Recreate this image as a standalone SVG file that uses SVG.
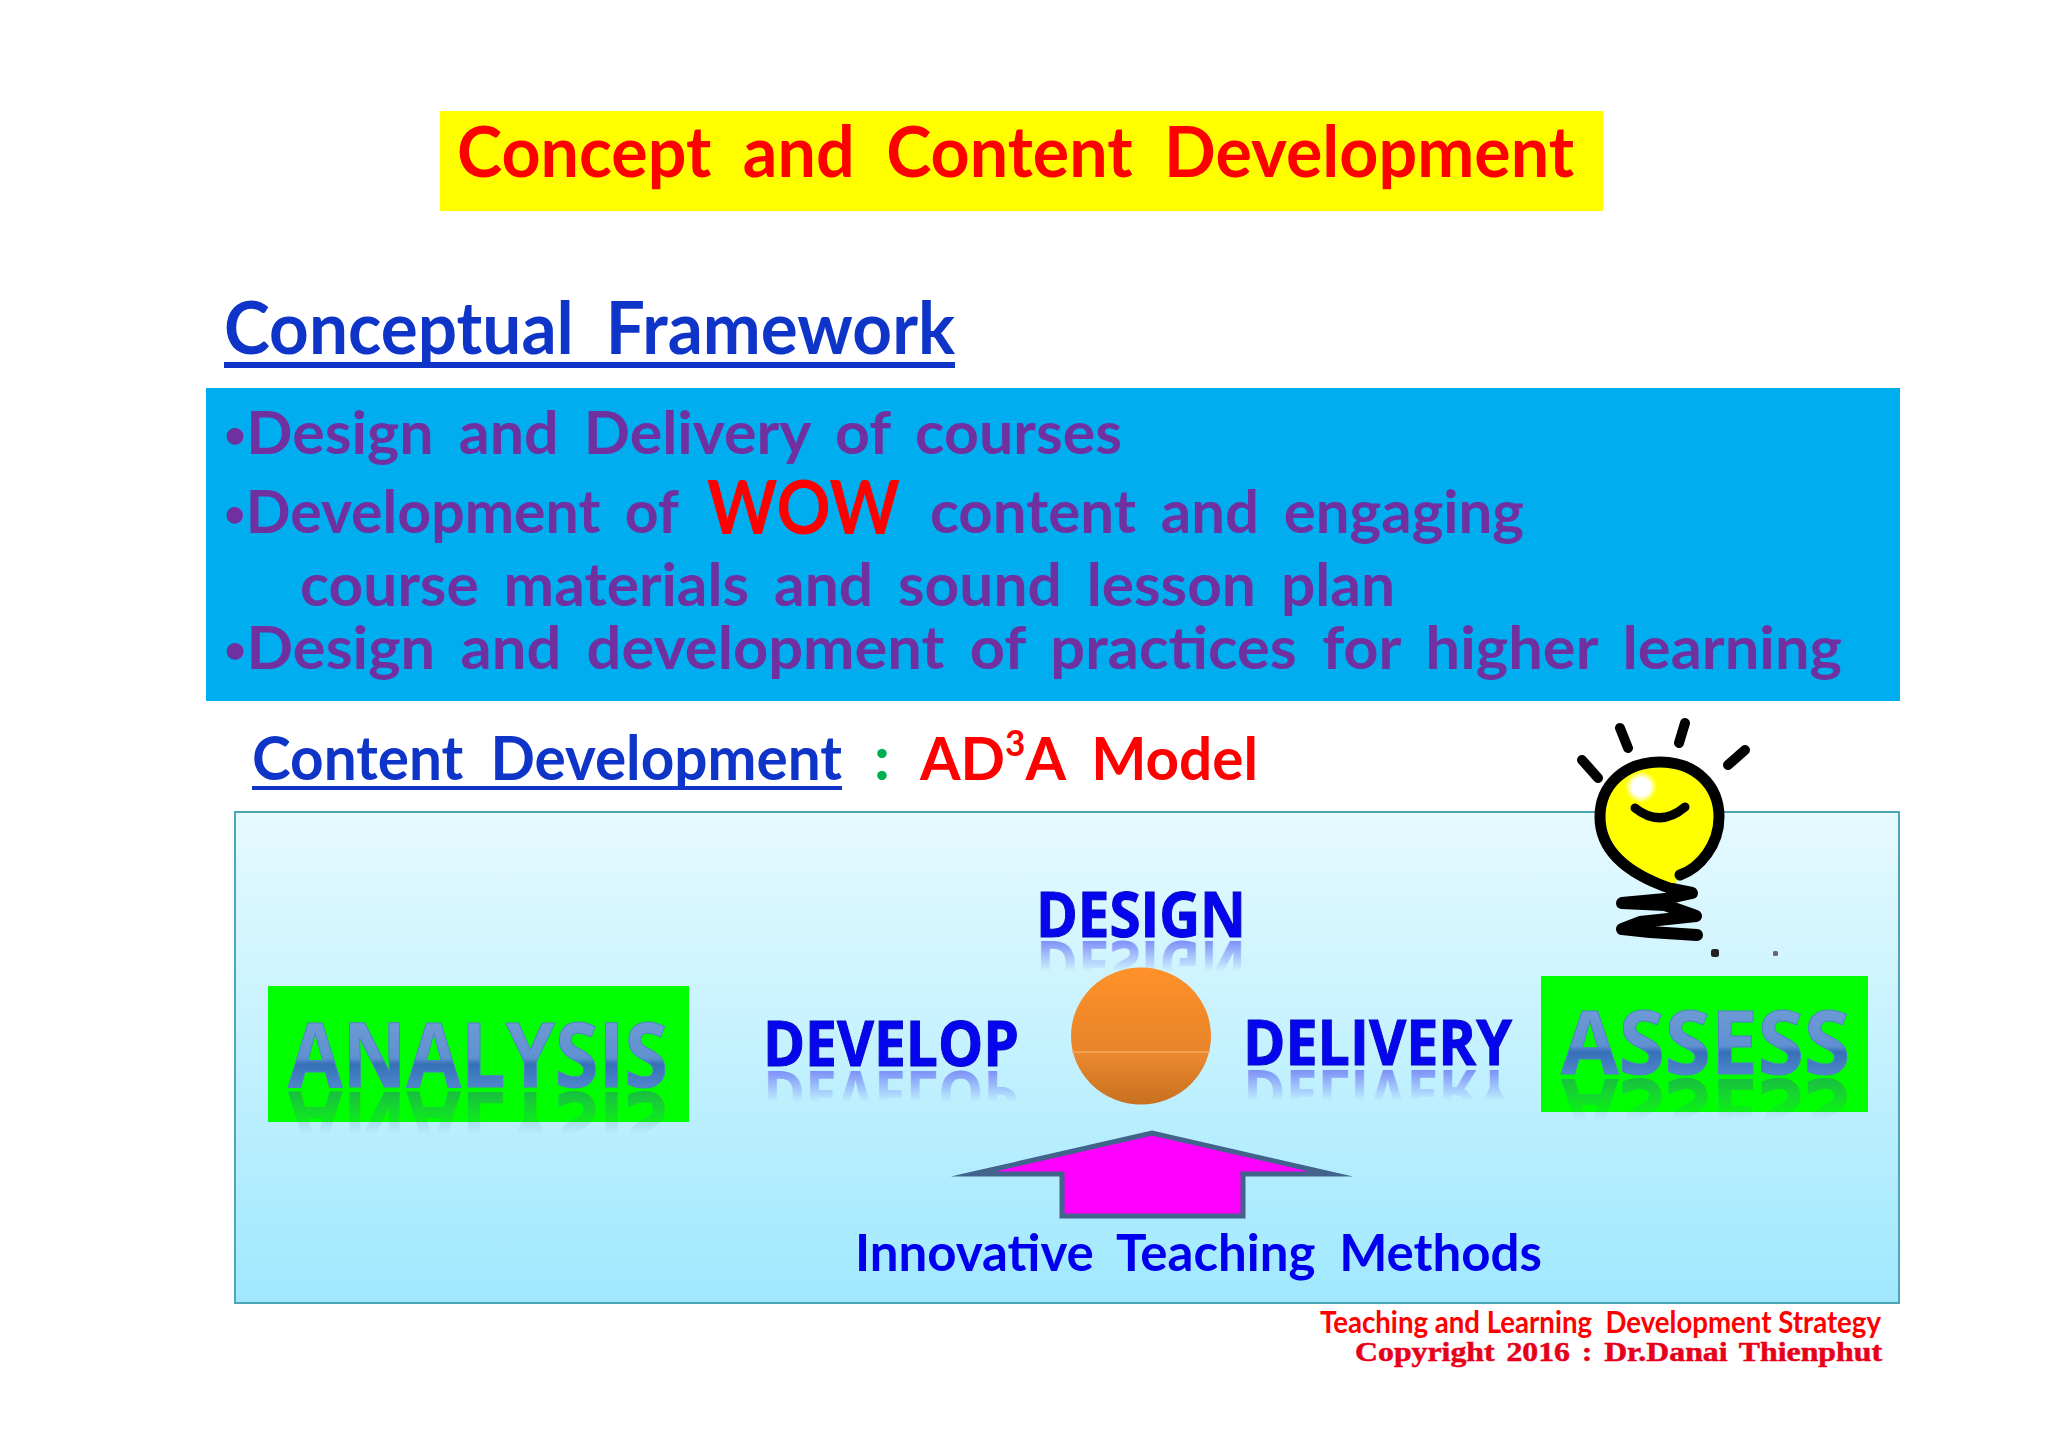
<svg xmlns="http://www.w3.org/2000/svg" width="2048" height="1448" viewBox="0 0 2048 1448">
<style>
text{font-family:"Lato","Open Sans","Liberation Sans",sans-serif;font-weight:700}
.c{word-spacing:.22em}
.body{font-size:60px;fill:#7030a0;word-spacing:.17em}
.blue{fill:#0f35c8}
.wa{font-family:"Open Sans","Liberation Sans",sans-serif;font-weight:700}
.b{fill:#0606ee;stroke:#0606c0;stroke-width:1}
.ref{fill:url(#fadeBlue)}
.st{fill:url(#steel);stroke:#4f82c4;stroke-width:1}
.ray{fill:none;stroke:#000;stroke-width:10;stroke-linecap:round}
</style>
<defs>
<linearGradient id="panel" x1="0" y1="0" x2="0" y2="1"><stop offset="0" stop-color="#e6faff"/><stop offset="1" stop-color="#a0e8fe"/></linearGradient>
<linearGradient id="ball" x1="0" y1="0" x2="0" y2="1"><stop offset="0" stop-color="#ff9129"/><stop offset=".61" stop-color="#e8842a"/><stop offset=".615" stop-color="#ec8a30"/><stop offset="1" stop-color="#c8701f"/></linearGradient>
<linearGradient id="steel" x1="0" y1="0" x2="0" y2="1"><stop offset=".2" stop-color="#6f9cd6"/><stop offset=".55" stop-color="#5f90d0"/><stop offset=".6" stop-color="#3570b8"/><stop offset=".8" stop-color="#5088cc"/></linearGradient>
<linearGradient id="fadeBlue" x1="0" y1="0" x2="0" y2="1"><stop offset=".417" stop-color="#6a78f5" stop-opacity="0"/><stop offset=".786" stop-color="#6a78f5" stop-opacity=".8"/></linearGradient>
<linearGradient id="fadeSteel" x1="0" y1="0" x2="0" y2="1"><stop offset=".435" stop-color="#5a86b0" stop-opacity="0"/><stop offset=".787" stop-color="#2a8a70" stop-opacity=".55"/></linearGradient>
<radialGradient id="shine"><stop offset=".55" stop-color="#fff"/><stop offset="1" stop-color="#fff" stop-opacity="0"/></radialGradient>
</defs>
<rect width="2048" height="1448" fill="#fff"/>
<g id="title"><rect x="440" y="111" width="1163" height="100" fill="#ff0"/>
<text class="c" x="457" y="177" font-size="70" fill="#f00" textLength="1117" lengthAdjust="spacingAndGlyphs">Concept and Content Development</text></g>
<g id="framework-heading"><text class="c blue" x="224" y="354" font-size="72" textLength="731" lengthAdjust="spacingAndGlyphs">Conceptual Framework</text><rect x="224" y="362" width="731" height="6" fill="#0f35c8"/></g>
<g id="framework-box"><rect x="206" y="388" width="1694" height="313" fill="#00aeef"/>
<text class="body" x="224" y="454" textLength="898" lengthAdjust="spacingAndGlyphs"><tspan font-size="38" dy="-6">•</tspan><tspan dy="6">Design and Delivery of courses</tspan></text>
<text class="body" x="224" y="533" textLength="455" lengthAdjust="spacingAndGlyphs"><tspan font-size="38" dy="-6">•</tspan><tspan dy="6">Development of</tspan></text>
<text x="707" y="534" font-size="75" fill="#f00" textLength="193" lengthAdjust="spacingAndGlyphs">WOW</text>
<text class="body" x="930" y="533" textLength="594" lengthAdjust="spacingAndGlyphs">content and engaging</text>
<text class="body" x="300" y="606" textLength="1095" lengthAdjust="spacingAndGlyphs">course materials and sound lesson plan</text>
<text class="body" x="224" y="669" textLength="1618" lengthAdjust="spacingAndGlyphs"><tspan font-size="38" dy="-6">•</tspan><tspan dy="6">Design and development of practices for higher learning</tspan></text></g>
<g id="content-heading"><text class="c blue" x="252" y="780" font-size="62" textLength="590" lengthAdjust="spacingAndGlyphs">Content Development</text><rect x="252" y="786" width="590" height="4" fill="#0f35c8"/>
<text x="874" y="780" font-size="62" fill="#00b050">:</text>
<text x="920" y="780" font-size="60" fill="#f00" textLength="338" lengthAdjust="spacingAndGlyphs">AD<tspan font-size="36" dy="-24">3</tspan><tspan dy="24" class="c">A Model</tspan></text></g>
<g id="model-panel"><rect x="235" y="812" width="1664" height="491" fill="url(#panel)" stroke="#4ba6b6" stroke-width="2"/></g>
<g id="analysis"><rect x="268" y="986" width="421" height="136" fill="#0f0"/>
<text transform="translate(0,2179) scale(1,-1)" class="wa" x="288" y="1087" font-size="90" fill="url(#fadeSteel)" textLength="380" lengthAdjust="spacingAndGlyphs">ANALYSIS</text>
<text class="wa st" x="288" y="1087" font-size="90" textLength="380" lengthAdjust="spacingAndGlyphs">ANALYSIS</text></g>
<g id="develop"><text transform="translate(0,2137) scale(1,-1)" class="wa ref" x="763" y="1066" font-size="62" textLength="256" lengthAdjust="spacingAndGlyphs">DEVELOP</text>
<text class="wa b" x="763" y="1066" font-size="62" textLength="256" lengthAdjust="spacingAndGlyphs">DEVELOP</text></g>
<g id="design"><text transform="translate(0,1878) scale(1,-1)" class="wa ref" x="1036" y="937" font-size="62" textLength="210" lengthAdjust="spacingAndGlyphs">DESIGN</text>
<text class="wa b" x="1036" y="937" font-size="62" textLength="210" lengthAdjust="spacingAndGlyphs">DESIGN</text></g>
<g id="delivery"><text transform="translate(0,2135) scale(1,-1)" class="wa ref" x="1243" y="1065" font-size="62" textLength="269" lengthAdjust="spacingAndGlyphs">DELIVERY</text>
<text class="wa b" x="1243" y="1065" font-size="62" textLength="269" lengthAdjust="spacingAndGlyphs">DELIVERY</text></g>
<g id="assess"><rect x="1541" y="976" width="327" height="136" fill="#0f0"/>
<text transform="translate(0,2153) scale(1,-1)" class="wa" x="1561" y="1074" font-size="88" fill="url(#fadeSteel)" textLength="289" lengthAdjust="spacingAndGlyphs">ASSESS</text>
<text class="wa st" x="1561" y="1074" font-size="88" textLength="289" lengthAdjust="spacingAndGlyphs">ASSESS</text></g>
<g id="hub"><ellipse cx="1141" cy="1036" rx="70" ry="68.5" fill="url(#ball)"/><path d="M1072 1052H1210" stroke="#f5a860" stroke-width="1.5"/></g>
<g id="connectors"><path d="M973 1174 1152 1133 1331 1174H1243V1216H1062V1174Z" fill="#f0f" stroke="#41638c" stroke-width="5" stroke-miterlimit="30"/></g>
<g id="methods"><text class="c" x="855" y="1271" font-size="52" fill="#0000ee" textLength="687" lengthAdjust="spacingAndGlyphs">Innovative Teaching Methods</text></g>
<g id="bulb">
<path d="M1680 875C1700 868 1719 845 1719 817 1719 785 1695 762 1660 762 1625 762 1600 785 1600 817 1600 850 1625 873 1672 889Z" fill="#ff0"/>
<path d="M1680 875C1700 868 1719 845 1719 817 1719 785 1695 762 1660 762 1625 762 1600 785 1600 817 1600 850 1625 873 1672 889" fill="none" stroke="#000" stroke-width="11" stroke-linecap="round"/>
<circle cx="1641" cy="787" r="16" fill="url(#shine)"/>
<path d="M1635 808Q1660 828 1685 807" class="ray" style="stroke-width:9"/>
<path d="M1582 760 1598 778M1620 728 1628 748M1685 723 1679 743M1745 750 1728 765" class="ray"/>
<path d="M1672 889 1692 893 1665 899 1622 903 1665 905 1696 916 1640 922 1622 929 1650 932 1697 935" fill="none" stroke="#000" stroke-width="12" stroke-linecap="round" stroke-linejoin="round"/>
<rect x="1711" y="949" width="8" height="8" rx="2.5" fill="#222"/><rect x="1773" y="951" width="5" height="5" rx="1.5" fill="#667"/></g>
<g id="footer"><text x="1320" y="1333" font-size="30" fill="#f00" textLength="561" lengthAdjust="spacingAndGlyphs" xml:space="preserve">Teaching and Learning  Development Strategy</text>
<text x="1355" y="1361" font-size="27" fill="#e8001a" stroke="#e8001a" stroke-width=".5" style="font-family:'Liberation Serif',serif;word-spacing:.12em" textLength="527" lengthAdjust="spacingAndGlyphs">Copyright 2016 : Dr.Danai Thienphut</text></g>
</svg>
